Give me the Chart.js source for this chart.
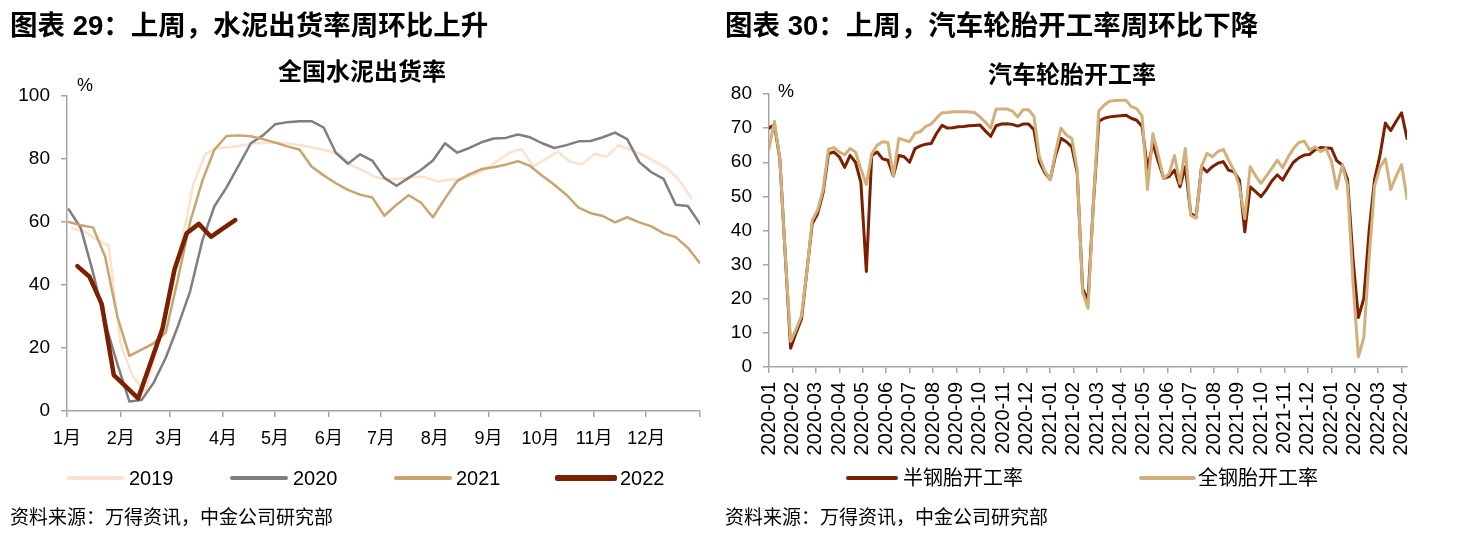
<!DOCTYPE html>
<html><head><meta charset="utf-8">
<script src="https://cdn.jsdelivr.net/npm/chart.js@4.4.1/dist/chart.umd.min.js"></script>
<style>
html,body{margin:0;padding:0;background:#fff}
body{width:1462px;height:540px;overflow:hidden;position:relative;font-family:"Liberation Sans","Noto Sans CJK SC",sans-serif;color:#000}
.t{position:absolute;white-space:nowrap;line-height:1}
.title{font-size:27.5px;font-weight:bold}
.sub{font-size:24px;font-weight:bold;transform:translateX(-50%)}
.src{font-size:19px}
.lg{font-size:20px}
.ln{position:absolute;height:4px;border-radius:2px}
canvas{position:absolute;top:0}
</style></head>
<body>
<canvas id="c1" width="715" height="540" style="left:0"></canvas>
<canvas id="c2" width="742" height="540" style="left:720px"></canvas>

<div class="t title" style="left:10px;top:12px">图表 29：上周，水泥出货率周环比上升</div>
<div class="t sub" style="left:362px;top:60px">全国水泥出货率</div>
<div class="t" style="left:77px;top:76px;font-size:18px">%</div>
<div class="ln" style="left:67px;top:476px;width:57px;background:#FCE2CE"></div>
<div class="t lg" style="left:129px;top:468px">2019</div>
<div class="ln" style="left:230px;top:476px;width:58px;background:#7F7F7F"></div>
<div class="t lg" style="left:293px;top:468px">2020</div>
<div class="ln" style="left:394px;top:476px;width:58px;background:#C9A46E"></div>
<div class="t lg" style="left:456px;top:468px">2021</div>
<div class="ln" style="left:555px;top:475px;width:62px;height:6px;background:#7B2000"></div>
<div class="t lg" style="left:620px;top:468px">2022</div>
<div class="t src" style="left:10px;top:508px">资料来源：万得资讯，中金公司研究部</div>

<div class="t title" style="left:725px;top:12px">图表 30：上周，汽车轮胎开工率周环比下降</div>
<div class="t sub" style="left:1072px;top:63px">汽车轮胎开工率</div>
<div class="t" style="left:778px;top:82px;font-size:18px">%</div>
<div class="ln" style="left:846px;top:476px;width:52px;background:#7B2000"></div>
<div class="t lg" style="left:903px;top:468px">半钢胎开工率</div>
<div class="ln" style="left:1139px;top:476px;width:57px;background:#D2B07C"></div>
<div class="t lg" style="left:1198px;top:468px">全钢胎开工率</div>
<div class="t src" style="left:725px;top:508px">资料来源：万得资讯，中金公司研究部</div>

<script>
// ---------- Chart 29: cement shipment rate (x = day of year) ----------
const cementMonthStartDays = [0,31,59,90,120,151,181,212,243,273,304,334,365];
const cementMonthLabels = ['1月','2月','3月','4月','5月','6月','7月','8月','9月','10月','11月','12月',''];
const cementYTicks = [0,20,40,60,80,100];

const cement2019StartDay = 3;
const cement2019 = [58,57,54.5,52.5,21,11,6,20,35,53,72.3,81.8,83.4,83.8,84.3,85,85.1,85.2,84.8,84.3,83.5,82.7,81.5,78,76.3,74.2,73.5,73.8,74.2,74.4,72.8,73.3,73.8,74.9,76.6,79.3,82,83.2,77.6,80,82.3,79.2,78.3,81.6,80.7,84.4,82.9,81.3,79.2,77,73.3,67.5];

const cement2020StartDay = 1;
const cement2020 = [64,58,44,28,15,3,3.5,9,17,27,38,54,65,71,78,85,87.5,91,91.7,92,92,90,82,78.5,81.5,79.5,74,71.5,74,76.5,79.5,85,82,83.5,85.3,86.5,86.7,87.8,86.9,85,83.5,84.4,85.6,85.7,86.9,88.4,86.3,79,75.8,73.7,65.5,65.1,59.4];

const cement2021StartDay = 1;
const cement2021 = [60,59,58.3,49,30,17.5,19.5,21.5,25,42,60,73,83,87.3,87.5,87.2,86.3,85.2,84,83,77.6,74.8,72.3,70.2,68.7,67.8,62,65.5,68.5,66.2,61.5,67.5,73,75.1,76.8,77.4,78.2,79.3,77.8,74.7,71.8,68.6,64.6,62.8,61.9,59.9,61.5,59.9,58.6,56.4,55.2,51.8,46.9];

const cement2022StartDay = 6;
const cement2022 = [46,42.6,34,11.4,7.7,4,15,26,45,56.4,59.4,55.3,58,60.6];

// ---------- Chart 30: tyre operating rate (weekly, x in months from 2020-01) ----------
const tireMonthLabels = ['2020-01','2020-02','2020-03','2020-04','2020-05','2020-06','2020-07','2020-08','2020-09','2020-10','2020-11','2020-12',
 '2021-01','2021-02','2021-03','2021-04','2021-05','2021-06','2021-07','2021-08','2021-09','2021-10','2021-11','2021-12',
 '2022-01','2022-02','2022-03','2022-04'];
const tireYTicks = [0,10,20,30,40,50,60,70,80];

const tireSemiSteel = [70,71,61,33,5.5,10,14,28,42,45,51,62.5,63,61.6,58.5,62,60,54,28,62,63,61,60.6,56,62,61.6,60,64,64.8,65.3,
 65.5,68.5,70.8,70,70.1,70.4,70.5,70.7,70.8,70.9,69.2,67.6,70.7,71.2,71.3,71.1,70.6,71.2,71.2,69.5,60.2,57,54.9,62,67,66,64.5,57,23,19.5,
 48,72,72.9,73.3,73.5,73.6,73.8,72.9,72.3,70.5,58,65.5,60.2,55.3,55.8,57.7,52.8,58.7,45,44,58.7,57.2,58.7,59.7,60.2,57.7,57.2,54.8,39.6,
 52.8,51.4,49.9,52,54.5,56.3,54.8,57.5,60,61.3,62.1,62.3,63.6,64.3,64.2,64.1,60.5,59.2,55,32,14.5,20,40,55,62,71.5,69.3,72,74.5,67];

const tireAllSteel = [64,72,61,33,7.5,11,15,28,43,46,52,63.8,64.3,63,62.2,64,63,58,53.5,62.5,65,66,65.8,56,67,66.5,66,68.5,69,70.5,
 71.2,73,74.5,74.6,74.8,74.8,74.8,74.7,74.6,73.3,71.8,70,75.6,75.6,75.6,75,73.3,75.4,75.4,73.5,61.6,57.5,54.8,63,70,68,67,58,22,17.2,
 48,75,76.8,77.9,78.1,78.2,78.2,76.3,75.7,73.5,52,68.4,62.1,55.3,56.7,62,53.8,64,44.4,43.6,58.8,62.6,61.6,63.1,63.8,60.6,57.7,53,43.5,
 58.7,56,53.8,56,58.2,60.6,58.4,61.5,64,65.8,66.2,63.6,64.5,63.1,64,60.5,52.3,59.2,53.2,25,3,8.5,32,53,58.5,61,52,56,59.3,49.4];

// ---------- helpers ----------
const weekly = (startDay, vals) => vals.map((v, i) => ({x: startDay + 7 * i, y: v}));
const weeksAsMonths = vals => vals.map((v, i) => ({x: i * 12 / 52, y: v}));

Chart.defaults.font.family = '"Liberation Sans","Noto Sans CJK SC",sans-serif';
Chart.defaults.color = '#000';
const axisGray = '#A6A6A6';

const commonOpts = {
  responsive: false, animation: false, devicePixelRatio: 1,
  elements: {point: {radius: 0}, line: {tension: 0, borderJoinStyle: 'round', borderCapStyle: 'round'}},
  plugins: {legend: {display: false}, tooltip: {enabled: false}, title: {display: false}}
};

new Chart(document.getElementById('c1'), {
  type: 'line',
  data: {datasets: [
    {label: '2019', data: weekly(cement2019StartDay, cement2019), borderColor: '#FCE2CE', borderWidth: 2.5, order: 4},
    {label: '2020', data: weekly(cement2020StartDay, cement2020), borderColor: '#7F7F7F', borderWidth: 2.5, order: 3},
    {label: '2021', data: weekly(cement2021StartDay, cement2021), borderColor: '#C9A46E', borderWidth: 2.5, order: 2},
    {label: '2022', data: weekly(cement2022StartDay, cement2022), borderColor: '#7B2000', borderWidth: 4.5, order: 1}
  ]},
  options: Object.assign({}, commonOpts, {
    layout: {padding: {top: 96, right: 15, bottom: 94, left: 0}},
    scales: {
      x: {type: 'linear', min: cementMonthStartDays[0], max: cementMonthStartDays[cementMonthStartDays.length - 1],
        afterBuildTicks: ax => { ax.ticks = cementMonthStartDays.map(v => ({value: v})); },
        afterFit: s => { s.height = 35; },
        ticks: {autoSkip: false, maxRotation: 0, minRotation: 0, padding: 11, font: {size: 18},
          callback: (v, i) => cementMonthLabels[i]},
        grid: {drawOnChartArea: false, drawTicks: true, tickLength: 6, color: axisGray, lineWidth: 1.5},
        border: {color: axisGray, width: 1.5}},
      y: {min: 0, max: 100,
        afterBuildTicks: ax => { ax.ticks = cementYTicks.map(v => ({value: v})); },
        afterFit: s => { s.width = 67; },
        ticks: {padding: 11, font: {size: 19}},
        grid: {drawOnChartArea: false, drawTicks: true, tickLength: 6, color: axisGray, lineWidth: 1.5},
        border: {color: axisGray, width: 1.5}}
    }
  })
});

new Chart(document.getElementById('c2'), {
  type: 'line',
  data: {datasets: [
    {label: '半钢胎开工率', data: weeksAsMonths(tireSemiSteel), borderColor: '#7B2000', borderWidth: 3, order: 2},
    {label: '全钢胎开工率', data: weeksAsMonths(tireAllSteel), borderColor: '#D2B07C', borderWidth: 3, order: 1}
  ]},
  options: Object.assign({}, commonOpts, {
    layout: {padding: {top: 94, right: 55, bottom: 73, left: 0}},
    scales: {
      x: {type: 'linear', min: 0, max: (tireSemiSteel.length - 1) * 12 / 52,
        afterBuildTicks: ax => { ax.ticks = tireMonthLabels.map((l, i) => ({value: i})); },
        afterFit: s => { s.height = 100; },
        ticks: {autoSkip: false, maxRotation: 90, minRotation: 90, padding: 9, font: {size: 20},
          callback: (v, i) => tireMonthLabels[i]},
        grid: {drawOnChartArea: false, drawTicks: true, tickLength: 6, color: axisGray, lineWidth: 1.5},
        border: {color: axisGray, width: 1.5}},
      y: {min: 0, max: 80,
        afterBuildTicks: ax => { ax.ticks = tireYTicks.map(v => ({value: v})); },
        afterFit: s => { s.width = 49; },
        ticks: {padding: 11, font: {size: 19}},
        grid: {drawOnChartArea: false, drawTicks: true, tickLength: 6, color: axisGray, lineWidth: 1.5},
        border: {color: axisGray, width: 1.5}}
    }
  })
});
</script>
</body></html>
